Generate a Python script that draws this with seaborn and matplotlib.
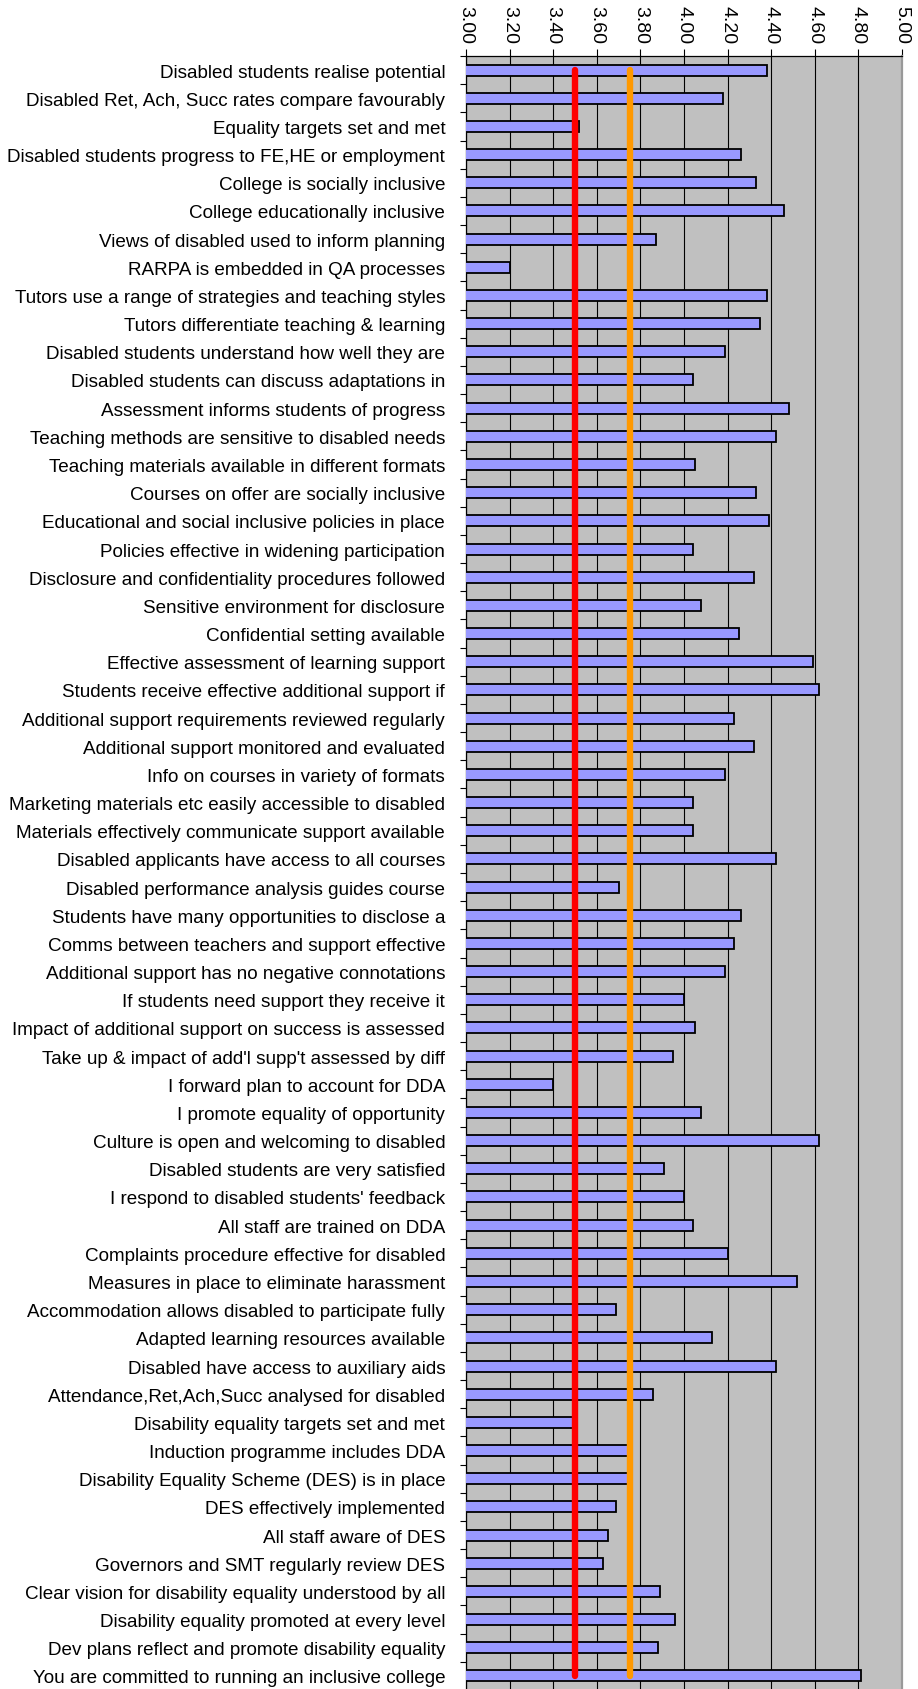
import numpy as np
import pandas as pd
import matplotlib
matplotlib.use("Agg")
import matplotlib.pyplot as plt
import seaborn as sns

# Survey statements (top to bottom) and their mean scores
categories = [
    "Disabled students realise potential",
    "Disabled Ret, Ach, Succ rates compare favourably",
    "Equality targets set and met",
    "Disabled students progress to FE,HE or employment",
    "College is socially inclusive",
    "College educationally inclusive",
    "Views of disabled used to inform planning",
    "RARPA is embedded in QA processes",
    "Tutors use a range of strategies and teaching styles",
    "Tutors differentiate teaching & learning",
    "Disabled students understand how well they are",
    "Disabled students can discuss adaptations in",
    "Assessment informs students of progress",
    "Teaching methods are sensitive to disabled needs",
    "Teaching materials available in different formats",
    "Courses on offer are socially inclusive",
    "Educational and social inclusive policies in place",
    "Policies effective in widening participation",
    "Disclosure and confidentiality procedures followed",
    "Sensitive environment for disclosure",
    "Confidential setting available",
    "Effective assessment of learning support",
    "Students receive effective additional support if",
    "Additional support requirements reviewed regularly",
    "Additional support monitored and evaluated",
    "Info on courses in variety of formats",
    "Marketing materials etc easily accessible to disabled",
    "Materials effectively communicate support available",
    "Disabled applicants have access to all courses",
    "Disabled performance analysis guides course",
    "Students have many opportunities to disclose a",
    "Comms between teachers and support effective",
    "Additional support has no negative connotations",
    "If students need support they receive it",
    "Impact of additional support on success is assessed",
    "Take up & impact of add'l supp't assessed by diff",
    "I forward plan to account for DDA",
    "I promote equality of opportunity",
    "Culture is open and welcoming to disabled",
    "Disabled students are very satisfied",
    "I respond to disabled students' feedback",
    "All staff are trained on DDA",
    "Complaints procedure effective for disabled",
    "Measures in place to eliminate harassment",
    "Accommodation allows disabled to participate fully",
    "Adapted learning resources available",
    "Disabled have access to auxiliary aids",
    "Attendance,Ret,Ach,Succ analysed for disabled",
    "Disability equality targets set and met",
    "Induction programme includes DDA",
    "Disability Equality Scheme (DES) is in place",
    "DES effectively implemented",
    "All staff aware of DES",
    "Governors and SMT regularly review DES",
    "Clear vision for disability equality understood by all",
    "Disability equality promoted at every level",
    "Dev plans reflect and promote disability equality",
    "You are committed to running an inclusive college",
]

scores = [
    4.38, 4.18, 3.52, 4.26, 4.33, 4.46, 3.87, 3.20, 4.38, 4.35,
    4.19, 4.04, 4.48, 4.42, 4.05, 4.33, 4.39, 4.04, 4.32, 4.08,
    4.25, 4.59, 4.62, 4.23, 4.32, 4.19, 4.04, 4.04, 4.42, 3.70,
    4.26, 4.23, 4.19, 4.00, 4.05, 3.95, 3.40, 4.08, 4.62, 3.91,
    4.00, 4.04, 4.20, 4.52, 3.69, 4.13, 4.42, 3.86, 3.50, 3.75,
    3.75, 3.69, 3.65, 3.63, 3.89, 3.96, 3.88, 4.81,
]

# Reference levels drawn as vertical lines across all statements
red_level = 3.50
orange_level = 3.75

tick_values = [3.00, 3.20, 3.40, 3.60, 3.80, 4.00, 4.20, 4.40, 4.60, 4.80, 5.00]
tick_labels = ["3.00", "3.20", "3.40", "3.60", "3.80", "4.00",
               "4.20", "4.40", "4.60", "4.80", "5.00"]

sns.set_theme(style="white")
plt.rcParams["font.family"] = ["Liberation Sans", "DejaVu Sans"]

W, H = 918, 1690
fig = plt.figure(figsize=(W / 100, H / 100), dpi=100)
fig.patch.set_facecolor("white")
ax = fig.add_axes([466 / W, -1 / H, 436 / W, (1691 - 57) / H])

df = pd.DataFrame({"item": categories, "score": scores})
sns.barplot(data=df, x="score", y="item", orient="h", color="#9999FF",
            saturation=1, width=0.39, edgecolor="black", linewidth=1.3,
            errorbar=None, ax=ax, zorder=3)

ax.set_facecolor("#C0C0C0")
ax.set_xlim(tick_values[0], tick_values[-1])
ax.set_ylim(len(categories) - 0.5, -0.5)

# vertical gridlines behind the bars
ax.set_axisbelow(True)
ax.xaxis.grid(True, which="major", color="black", linewidth=0.8)
ax.yaxis.grid(False, which="both")

# reference lines
n = len(categories)
ax.plot([red_level, red_level], [0, n - 1], color="#FF0000", lw=4.6,
        solid_capstyle="round", zorder=5)
ax.plot([orange_level, orange_level], [0, n - 1], color="#FF9900", lw=4.6,
        solid_capstyle="round", zorder=5)

# value axis on top with rotated labels
ax.xaxis.tick_top()
ax.set_xticks(tick_values)
ax.set_xticklabels(tick_labels, rotation=-90)
ax.tick_params(axis="x", which="major", length=5, width=0.8, pad=4,
               labelsize=14, direction="out", color="black",
               labelcolor="black", top=True, bottom=False)

# category labels, with ticks between categories
ax.set_yticks(np.arange(n))
ax.set_yticklabels(categories)
ax.set_yticks(np.arange(-0.5, n, 1.0), minor=True)
ax.tick_params(axis="y", which="major", length=0, pad=15, labelsize=13.6,
               labelcolor="black")
ax.tick_params(axis="y", which="minor", length=4, width=0.8,
               direction="out", color="black", left=True, right=False)

ax.set_xlabel("")
ax.set_ylabel("")

for side in ("top", "left"):
    ax.spines[side].set_color("black")
    ax.spines[side].set_linewidth(0.9)
ax.spines["right"].set_color("#999999")
ax.spines["right"].set_linewidth(1.6)
ax.spines["bottom"].set_visible(False)

fig.savefig("out.png", dpi=100, facecolor="white")
